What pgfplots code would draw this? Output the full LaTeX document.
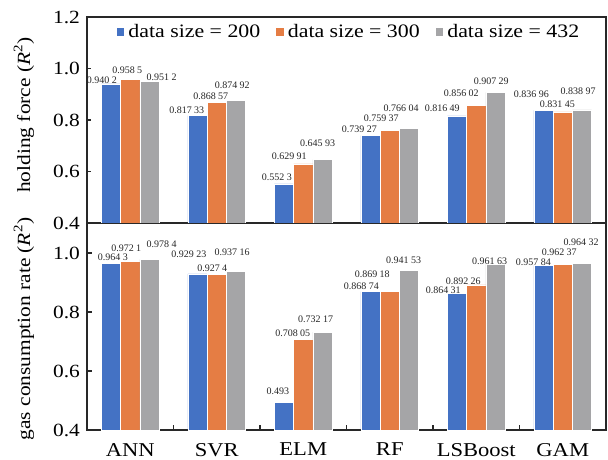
\documentclass[border=0pt]{standalone}
\usepackage{pgfplots}
\pgfplotsset{compat=1.18}
\usepackage{pgfplotstable}
\usepackage{fontspec}
\setmainfont{Liberation Serif}[FakeStretch=1.15]
\newfontfamily\lblfont{Liberation Serif}
\definecolor{cb}{RGB}{68,114,196}
\definecolor{co}{RGB}{229,125,68}
\definecolor{cg}{RGB}{165,165,167}
\definecolor{ax}{RGB}{40,40,40}

% holding force
\pgfplotstableread[col sep=comma,row sep=\\]{
x,y,lab,dx,dy\\
0,0.9402,0.940~2,-4.5,2\\
1,0.81733,0.817~33,-5.35,2.75\\
2,0.5523,0.552~3,-3.5,3.5\\
3,0.73927,0.739~27,-5.5,3.15\\
4,0.81649,0.816~49,-7.35,4\\
5,0.83696,0.836~96,-6,8\\
}\hA
\pgfplotstableread[col sep=comma,row sep=\\]{
x,y,lab,dx,dy\\
0,0.9585,0.958~5,-1.5,4.25\\
1,0.86857,0.868~57,-3,2.8\\
2,0.62991,0.629~91,-7,4\\
3,0.75937,0.759~37,-4.25,6\\
4,0.85602,0.856~02,-7.5,6\\
5,0.83145,0.831~45,-2.75,3.8\\
}\hB
\pgfplotstableread[col sep=comma,row sep=\\]{
x,y,lab,dx,dy\\
0,0.9512,0.951~2,6,2\\
1,0.87492,0.874~92,-1.9,7.5\\
2,0.64593,0.645~93,-2.5,8\\
3,0.76604,0.766~04,-4,10\\
4,0.90729,0.907~29,-2.15,5.35\\
5,0.83897,0.838~97,-2,9.5\\
}\hC
% gas consumption rate
\pgfplotstableread[col sep=comma,row sep=\\]{
x,y,lab,dx,dy\\
0,0.9643,0.964~3,1,3\\
1,0.92923,0.929~23,-4.25,9.8\\
2,0.493,0.493,-3,5.5\\
3,0.86874,0.868~74,-4.5,2.5\\
4,0.86431,0.864~31,-6.85,1.5\\
5,0.95784,0.957~84,-5,1.5\\
}\gA
\pgfplotstableread[col sep=comma,row sep=\\]{
x,y,lab,dx,dy\\
0,0.9721,0.972~1,-2,6.5\\
1,0.9274,0.927~4,-2.25,3\\
2,0.70805,0.708~05,-5.25,2.9\\
3,0.86918,0.869~18,-8.75,8.5\\
4,0.89226,0.892~26,-6.5,2\\
5,0.96237,0.962~37,-1.75,6\\
}\gB
\pgfplotstableread[col sep=comma,row sep=\\]{
x,y,lab,dx,dy\\
0,0.9784,0.978~4,6,7.5\\
1,0.93716,0.937~16,-2,9.5\\
2,0.73217,0.732~17,-3.5,6.5\\
3,0.94153,0.941~53,-2.75,5\\
4,0.96163,0.961~63,-3,1.35\\
5,0.96432,0.964~32,-0.5,10.5\\
}\gC

\pgfplotsset{
  mystyle/.style={
    scale only axis, width=259.5pt, xmin=-0.5, xmax=5.5,
    ybar=0pt, bar width=9.65pt,
    axis line style={line width=0.8pt, draw=ax},
    tick style={draw=ax, line width=0.6pt},
    ytick pos=left, xtick pos=bottom, tick align=inside, major tick length=2pt,
    /pgf/number format/assume math mode=true,
    /pgf/number format/fixed, /pgf/number format/fixed zerofill,
    /pgf/number format/precision=1,
    ticklabel style={font=\fontsize{9.3}{10}\selectfont},
    ylabel style={font=\fontsize{9.3}{11}\selectfont, anchor=center},
    nodes near coords, point meta=explicit symbolic,
    visualization depends on={\thisrow{dx} \as \dx},
    visualization depends on={\thisrow{dy} \as \dy},
    every node near coord/.append style={font=\lblfont\fontsize{5}{6}\selectfont,
      anchor=center, inner sep=0pt, xshift=\dx pt, yshift=\dy pt, text=black!85},
    clip=false,
  },
  barA/.style={fill=cb, draw=white, line width=0.25pt},
  barB/.style={fill=co, draw=white, line width=0.25pt},
  barC/.style={fill=cg, draw=white, line width=0.25pt},
}

\begin{document}
\begin{tikzpicture}
\path[use as bounding box] (0,0) rectangle (304pt,229.5pt);
\begin{axis}[mystyle,
  at={(43.5pt,118pt)}, anchor=south west, height=103pt,
  ymin=0.4, ymax=1.2, ytick={0.4,0.6,0.8,1.0,1.2},
  xtick=\empty,
  ylabel={holding force (\textit{R}\textsuperscript{2})},
  ylabel style={at={(axis description cs:-0.1214,0.525)}},
  legend style={draw=none, fill=none, at={(0.5,1)}, anchor=center,
    yshift=-7.5pt, xshift=1.75pt, legend columns=-1,
    font=\fontsize{9.5}{11}\selectfont,
    /tikz/every even column/.append style={column sep=6pt}},
  legend image code/.code={\path[#1,draw=none] (0pt,-1.8pt) rectangle (3.8pt,2pt);},
]
\addplot[barA] table[x=x,y=y,meta=lab] {\hA};
\addlegendentry{data size = 200}
\addplot[barB] table[x=x,y=y,meta=lab] {\hB};
\addlegendentry{data size = 300}
\addplot[barC] table[x=x,y=y,meta=lab] {\hC};
\addlegendentry{data size = 432}
\end{axis}
\begin{axis}[mystyle,
  at={(43.5pt,14.5pt)}, anchor=south west, height=103.25pt,
  ymin=0.4, ymax=1.1, ytick={0.4,0.6,0.8,1.0},
  major tick length=2.3pt,
  xtick={0.5,1.5,2.5,3.5,4.5}, xticklabels={},
  extra x ticks={0,1,2,3,4,5},
  extra x tick labels={ANN,SVR,ELM,RF,LSBoost,GAM},
  extra x tick style={major tick length=0pt,
    xticklabel style={font=\fontsize{9.8}{11}\selectfont, yshift=-3pt}},
  ylabel={gas consumption rate (\textit{R}\textsuperscript{2})},
  ylabel style={at={(axis description cs:-0.1214,0.49)}},
]
\addplot[barA] table[x=x,y=y,meta=lab] {\gA};
\addplot[barB] table[x=x,y=y,meta=lab] {\gB};
\addplot[barC] table[x=x,y=y,meta=lab] {\gC};
\end{axis}
\end{tikzpicture}
\end{document}
